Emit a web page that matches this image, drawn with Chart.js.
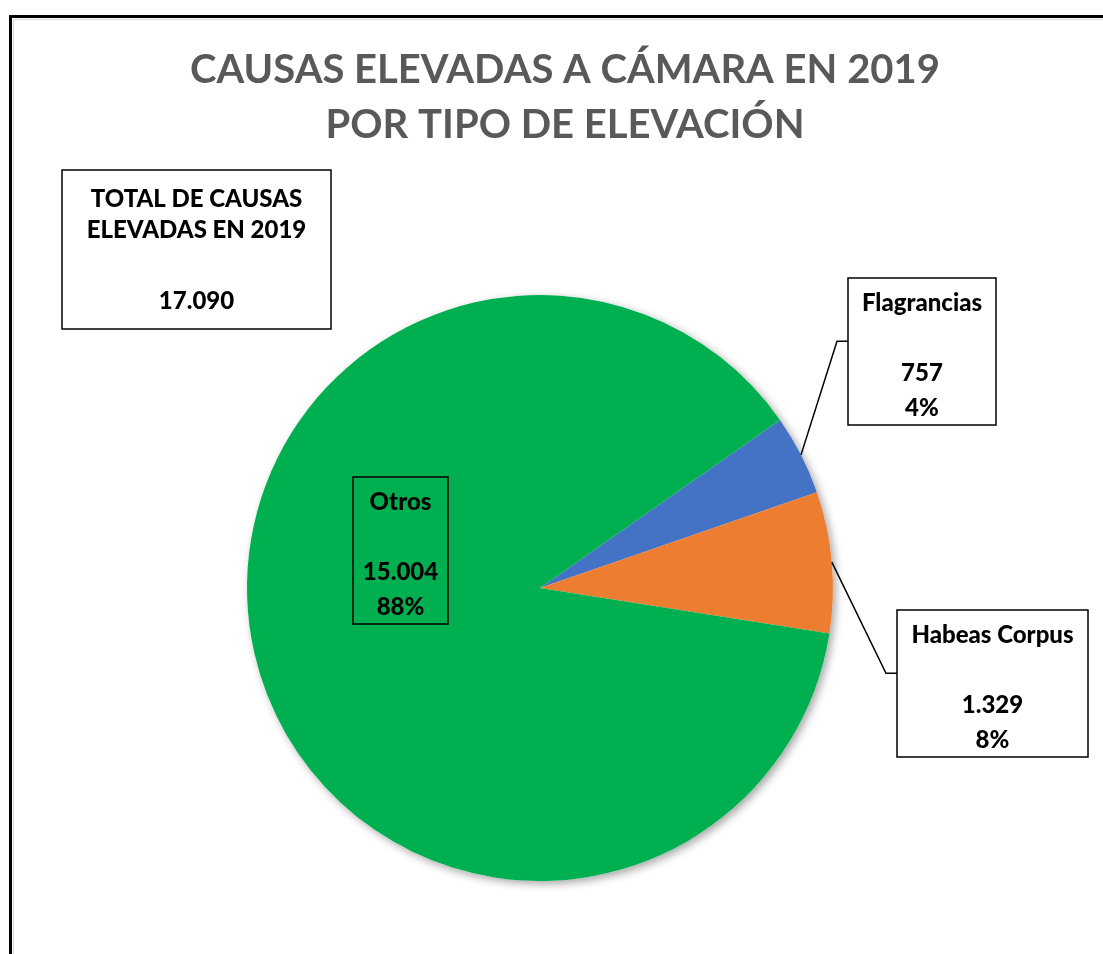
<!DOCTYPE html>
<html>
<head>
<meta charset="utf-8">
<script src="https://cdn.jsdelivr.net/npm/chart.js@4.4.1/dist/chart.umd.min.js"></script>
<style>
  html, body { margin: 0; padding: 0; background: #fff; }
  canvas { display: block; }
</style>
</head>
<body>
<canvas id="pie" width="1103" height="954"></canvas>
<script>
// data
const categories = ['Flagrancias', 'Habeas Corpus', 'Otros'];
const causas = [757, 1329, 15004];
const titleLines = ['CAUSAS ELEVADAS A CÁMARA EN 2019', 'POR TIPO DE ELEVACIÓN'];
const totalLines = ['TOTAL DE CAUSAS', 'ELEVADAS EN 2019'];

const total = causas.reduce((a, b) => a + b, 0);

// 17090 -> "17.090"
function fmt(n) {
  return String(n).replace(/\B(?=(\d{3})+(?!\d))/g, '.');
}

const FONT = 'Lato, "Open Sans", sans-serif';
const LABEL_FONT = '900 24px ' + FONT;

// where each label box sits (left, top, width); leader = true draws the line to the slice
const boxes = [
  { x: 848, y: 278, w: 148, leader: true, elbow: 837 },
  { x: 897, y: 610, w: 191, leader: true, elbow: 886 },
  { x: 353, y: 477, w: 95, leader: false }
];

const decorPlugin = {
  id: 'decor',
  beforeDraw(chart) {
    const ctx = chart.ctx;
    ctx.save();
    // outer frame (runs off the page on the right and bottom)
    ctx.strokeStyle = '#d9d9d9';
    ctx.lineWidth = 1;
    ctx.strokeRect(13.5, 19.5, 1200, 1200);
    ctx.strokeStyle = '#000';
    ctx.lineWidth = 3;
    ctx.strokeRect(10.5, 16.5, 1200, 1200);

    // title
    ctx.fillStyle = '#595959';
    ctx.font = 'bold 40px ' + FONT;
    ctx.textAlign = 'center';
    ctx.textBaseline = 'middle';
    ctx.fillText(titleLines[0], 565, 70);
    ctx.fillText(titleLines[1], 565, 125);
    ctx.restore();
  },
  beforeDatasetsDraw(chart) {
    // soft shadow behind the pie
    const arc = chart.getDatasetMeta(0).data[0];
    if (!arc) return;
    const ctx = chart.ctx;
    ctx.save();
    ctx.shadowColor = 'rgba(0,0,0,0.35)';
    ctx.shadowBlur = 8;
    ctx.shadowOffsetX = 3;
    ctx.shadowOffsetY = 3;
    ctx.fillStyle = '#fff';
    ctx.beginPath();
    ctx.arc(arc.x, arc.y, arc.outerRadius, 0, Math.PI * 2);
    ctx.fill();
    ctx.restore();
  },
  afterDraw(chart) {
    const ctx = chart.ctx;
    const meta = chart.getDatasetMeta(0);
    ctx.save();
    ctx.textAlign = 'center';
    ctx.textBaseline = 'middle';
    ctx.font = LABEL_FONT;

    // total box
    ctx.lineWidth = 1.5;
    ctx.strokeStyle = '#000';
    ctx.fillStyle = '#fff';
    ctx.fillRect(62, 170, 269, 159);
    ctx.strokeRect(62, 170, 269, 159);
    ctx.fillStyle = '#000';
    ctx.fillText(totalLines[0], 196.5, 199);
    ctx.fillText(totalLines[1], 196.5, 230);
    ctx.fillText(fmt(total), 196.5, 301);

    // data label boxes
    categories.forEach((name, i) => {
      const b = boxes[i];
      const h = 147;
      const arc = meta.data[i];
      if (b.leader && arc) {
        const mid = (arc.startAngle + arc.endAngle) / 2;
        const ax = arc.x + Math.cos(mid) * arc.outerRadius;
        const ay = arc.y + Math.sin(mid) * arc.outerRadius;
        const ly = b.y + h * 0.43;
        ctx.beginPath();
        ctx.lineWidth = 1.5;
        ctx.moveTo(ax, ay);
        ctx.lineTo(b.elbow, ly);
        ctx.lineTo(b.x, ly);
        ctx.stroke();
      }
      if (b.leader) {
        ctx.fillStyle = '#fff';
        ctx.fillRect(b.x, b.y, b.w, h);
      }
      ctx.lineWidth = 1.5;
      ctx.strokeRect(b.x, b.y, b.w, h);
      ctx.fillStyle = '#000';
      const cx = b.x + b.w / 2;
      ctx.fillText(name, cx, b.y + 25);
      ctx.fillText(fmt(causas[i]), cx, b.y + 95);
      ctx.fillText(Math.round(causas[i] / total * 100) + '%', cx, b.y + 130);
    });
    ctx.restore();
  }
};

new Chart(document.getElementById('pie').getContext('2d'), {
  type: 'pie',
  data: {
    labels: categories,
    datasets: [{
      data: causas,
      backgroundColor: ['#4472C4', '#ED7D31', '#00B050'],
      borderWidth: 0
    }]
  },
  options: {
    responsive: false,
    animation: false,
    rotation: 55,
    layout: { padding: { left: 247, right: 270, top: 295, bottom: 73 } },
    plugins: {
      legend: { display: false },
      title: { display: false },
      tooltip: { enabled: false }
    }
  },
  plugins: [decorPlugin]
});
</script>
</body>
</html>
